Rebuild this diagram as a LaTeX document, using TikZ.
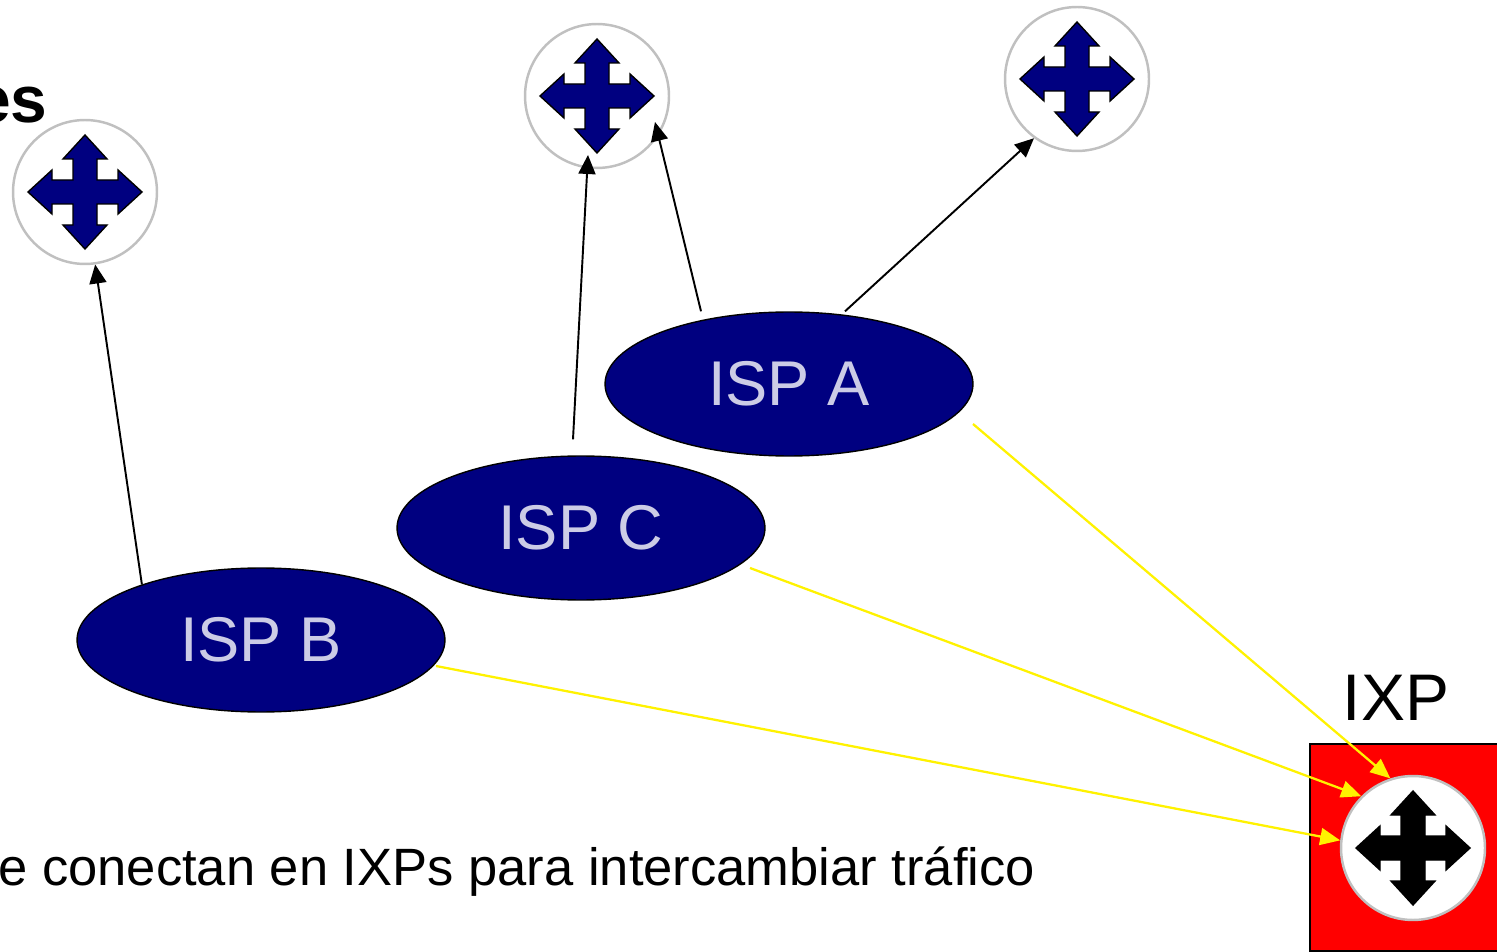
\documentclass[tikz,border=0pt]{standalone}
\usepackage{fontspec}
\setmainfont{Liberation Sans}
\usetikzlibrary{arrows.meta,shapes.geometric}
\definecolor{ispblue}{RGB}{0,0,128}
\definecolor{isptext}{RGB}{204,204,230}
\definecolor{ringgray}{RGB}{192,192,192}
\tikzset{
router/.style={circle, draw=ringgray, line width=1.4pt, fill=white, inner sep=0pt, minimum size=2.88cm,
  path picture={\draw[draw=black, fill=#1, line width=0.8pt, line join=miter, x=0.02cm, y=0.02cm, shift={(path picture bounding box.center)}]
  (0,57)--(22,33)--(12,33)--(12,12)--(33,12)--(33,22)--(57,0)--(33,-22)--(33,-12)--(12,-12)--(12,-33)--(22,-33)
  --(0,-57)--(-22,-33)--(-12,-33)--(-12,-12)--(-33,-12)--(-33,-22)--(-57,0)--(-33,22)--(-33,12)--(-12,12)--(-12,33)--(-22,33)--cycle;}},
router/.default=ispblue,
isp/.style={ellipse, draw=black, line width=0.8pt, fill=ispblue, text=isptext, inner sep=0pt,
  minimum width=7.36cm, minimum height=2.88cm, font=\fontsize{36}{40}\selectfont},
link/.style={draw=black, line width=1.1pt, -{Triangle[length=0.38cm,width=0.34cm]}},
peer/.style={draw=yellow, line width=1.3pt, -{Triangle[length=0.4cm,width=0.34cm]}}
}
\begin{document}
\begin{tikzpicture}[x=0.02cm,y=-0.02cm]
\useasboundingbox (0,0) rectangle (1497,952);
\clip (0,0) rectangle (1497,952);
\node [draw=black, line width=1.1pt, fill=red, anchor=north west, minimum width=4.6cm, minimum height=4.14cm] (ixp) at (1309,743) {};
\foreach \n/\x/\y in {r1/85/192, r2/597/96, r3/1077/79}{
\node [router] (\n) at (\x,\y) {};
}
\node [router=black] (ixr) at (1413,848) {};
\node [isp] (ispA) at (789,384) {ISP A};
\node [isp] (ispC) at (581,528) {ISP C};
\node [isp] (ispB) at (261,640) {ISP B};
\draw [link] (ispB.155) -- (r1.-82);
\draw [link] ([shift={(-8,-16)}]ispC.north) -- ([shift={(-9,59)}]r2.center);
\draw [link] ([shift={(-88,0)}]ispA.north) -- ([shift={(58,26)}]r2.center);
\draw [link] ([shift={(56,0)}]ispA.north) -- (r3.234);
\draw [peer] ([shift={(184,40)}]ispA.center) -- (ixr.108);
\draw [peer] ([shift={(169,40)}]ispC.center) -- (ixr.135);
\draw [peer] ([shift={(175,26)}]ispB.center) -- (ixr.174);
\node [anchor=base, inner sep=0pt, font=\fontsize{37.5}{40}\selectfont] (ixplabel) at (1396,720) {IXP};
\node [anchor=base east, inner sep=0pt, font=\bfseries\fontsize{37.5}{40}\selectfont] (title) at (48,123) {es};
\node [anchor=base west, inner sep=0pt, font=\fontsize{29.9}{36}\selectfont] (note) at (-2,885) {e conectan en IXPs para intercambiar tráfico};
\end{tikzpicture}
\end{document}
